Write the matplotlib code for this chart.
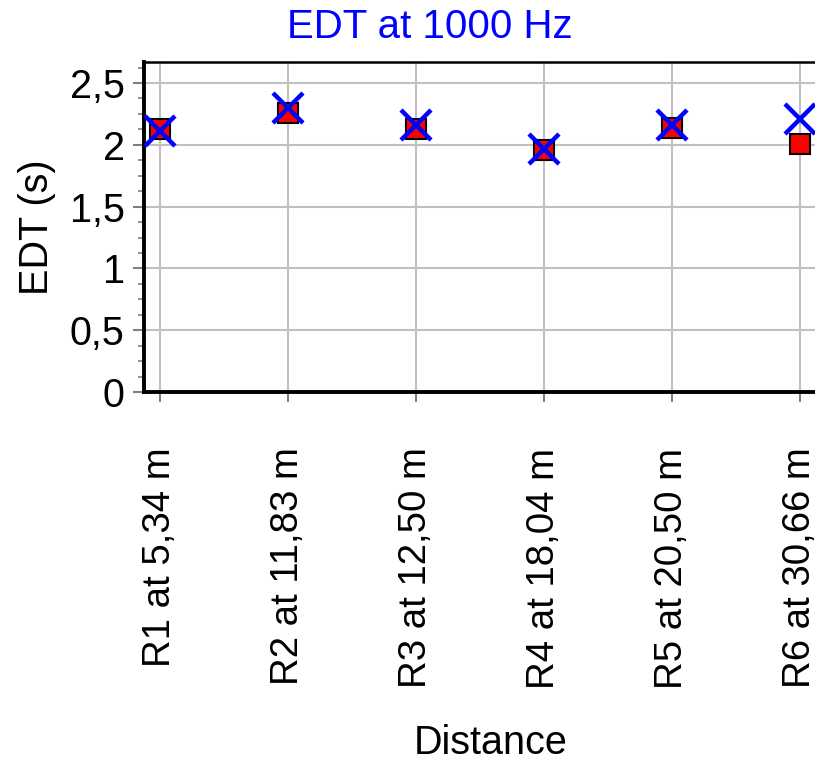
import matplotlib.pyplot as plt
from matplotlib.ticker import MultipleLocator, FuncFormatter

plt.rcParams['font.family'] = ['Liberation Sans', 'DejaVu Sans']

receivers = ['R1 at 5,34 m', 'R2 at 11,83 m', 'R3 at 12,50 m',
             'R4 at 18,04 m', 'R5 at 20,50 m', 'R6 at 30,66 m']
edt_measured = [2.13, 2.26, 2.13, 1.96, 2.14, 2.01]
edt_simulated = [2.11, 2.30, 2.16, 1.97, 2.16, 2.21]

fig = plt.figure(figsize=(8.15, 7.64), dpi=100)
ax = fig.add_axes([144/815, 1-392/764, (832-144)/815, (392-62)/764])

x = list(range(len(receivers)))
ax.plot(x, edt_measured, ls='none', marker='s', ms=14, mfc='#ff0000',
        mec='black', mew=1.5, zorder=3)
ax.plot(x, edt_simulated, ls='none', marker='x', ms=22, mec='#0000ff',
        mew=3.2, zorder=4)

ax.set_xlim(-0.125, 5.25)
ax.set_ylim(0, 2.67)
ax.set_xticks(x)
ax.set_xticklabels(receivers, rotation=90, fontsize=27.6)
ax.yaxis.set_major_locator(MultipleLocator(0.5))
ax.yaxis.set_minor_locator(MultipleLocator(0.125))
ax.yaxis.set_major_formatter(FuncFormatter(lambda v, p: ('%g' % v).replace('.', ',')))
ax.tick_params(axis='y', which='major', labelsize=28.5, length=8, width=1.5,
               color='#808080', pad=6)
ax.tick_params(axis='y', which='minor', length=4.5, width=1.2, color='#808080')
ax.tick_params(axis='x', length=7, width=1.5, color='#808080', pad=33)

ax.grid(True, color='#c0c0c0', lw=1.5, zorder=0)
ax.set_axisbelow(True)

ax.spines['right'].set_visible(False)
ax.spines['top'].set_linewidth(1.8)
ax.spines['left'].set_linewidth(2.8)
ax.spines['bottom'].set_linewidth(2.8)

ax.set_ylabel('EDT (s)', fontsize=28.5)
ax.yaxis.set_label_coords(-0.128, 0.5)
ax.set_xlabel('Distance', fontsize=28.5)
ax.xaxis.set_label_coords(0.504, -1.005)

fig.text(430/815, 1-38/764, 'EDT at 1000 Hz', ha='center', va='baseline',
         fontsize=29, color='#0000ff')

fig.savefig('out.png', dpi=100)
